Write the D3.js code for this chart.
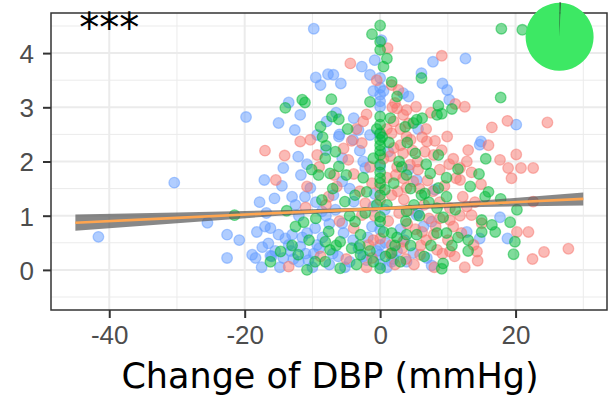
<!DOCTYPE html>
<html>
<head>
<meta charset="utf-8">
<script src="https://cdn.jsdelivr.net/npm/d3@7"></script>
<style>
  body { margin: 0; background: #fff; }
  svg { font-family: "DejaVu Sans", sans-serif; }
  .grid-major line { stroke: #ebebeb; stroke-width: 2; }
  .grid-minor line { stroke: #ebebeb; stroke-width: 1; }
  .axis line { stroke: #333; stroke-width: 2; }
  .axis text { fill: #4d4d4d; font-size: 26px; }
  .axistitle { fill: #000; font-size: 35px; }
</style>
</head>
<body>
<div id="chart"></div>
<script>
// DATA
var xTicks = [-40, -20, 0, 20];
var xMinor = [-30, -10, 10, 30];
var yTicks = [0, 1, 2, 3, 4];
var yMinor = [-0.5, 0.5, 1.5, 2.5, 3.5, 4.5];

// group colours: red / green / blue (ggplot hues)
var groupRed = [[1.1,4.09],[-4.4,3.81],[1.7,3.41],[2.2,3.08],[2.7,3.32],[-2.0,2.87],[-2.5,2.74],[1.7,2.52],[-11.8,2.37],[-10.3,2.40],[-4.2,2.38],[-2.7,2.34],[2.5,2.98],[2.0,2.74],
  [9.1,3.95],[5.3,3.01],[3.9,2.95],[3.4,2.86],[11.1,3.06],[12.5,3.01],[16.5,2.63],[18.8,2.75],[24.7,2.72],[9.9,2.46],[6.9,2.37],[8.1,2.38],[3.9,2.46],
  [13.0,2.21],[17.7,2.03],[20.1,2.13],[20.8,1.88],[22.6,1.88],[18.9,1.88],[19.4,1.69],[12.8,2.00],[11.8,1.88],[11.2,1.69],[11.8,1.66],[14.9,1.58],[22.6,1.26],[20.2,0.70],[21.9,0.70],[22.5,0.20],[24.2,0.33],[27.8,0.39],[10.2,1.95],[8.8,1.85],[12.8,1.17],[13.5,1.01],[15.0,0.86],[12.0,0.68],[10.3,0.34],[13.8,0.46],[14.3,0.34],[14.4,0.17],[8.4,0.37],[5.9,0.28],[7.9,0.65],[3.4,0.52],[8.8,0.95],[10.3,0.92],[10.3,1.14],[3.9,1.51],[4.9,1.63],[3.4,1.69],[4.4,1.94],[7.9,2.12],[6.6,2.18],[9.1,2.21],[3.4,2.15],
  [-17.0,2.20],[-14.1,2.11],[-15.4,1.66],[-10.8,1.54],[-9.3,2.12],[-4.7,2.03],[-3.9,1.77],[-6.4,1.54],[-7.6,1.35],[0,1.51],[0,1.29],[-1.2,1.60],[1.7,1.38],[-2.2,1.23],[-13.5,0.06],[-8.8,0.25],[-3.9,0.77],[-1.7,0.46],[0,0.58],[1.7,0.46],[-1.2,0.22],[-5.4,2.24],[-2.7,1.01],
  [2.5,1.9],[3.0,2.3],[4.5,2.4],[5.8,1.5],[6.5,1.2],[7.2,0.95],[2.8,1.05],[4.0,0.85],[6.0,0.45],[5.0,0.1],[8.0,0.05],[11.0,0.25],[12.5,0.05],[2.2,0.1],[1.2,0.9],[3.5,1.3],[9.5,1.55],[10.8,2.05],[6.8,2.6],[7.5,2.9],[1.0,2.6],[-1.0,0.55],[-3.0,1.45],[-6.0,0.9],[-9.0,1.9],[0.5,2.05],[2.0,2.25],[4.2,2.7],[5.5,2.0],[6.2,0.7],[10.0,0.55],[12.2,1.35],[14.0,1.25],[3.3,0.4],[1.5,0.3],[-2.0,0.05],[-5.0,0.2],[8.8,1.25],[7.0,1.65],[2.3,1.75],
  [1.0,1.7],[1.5,2.1],[3.0,2.6],[4.8,2.2],[5.6,1.85],[6.2,2.45],[7.8,1.45],[8.2,0.8],[9.2,0.3],[10.8,0.8],[11.8,1.0],[2.6,1.45],[4.2,1.1],[5.2,0.75],[6.8,0.55],[3.8,0.2],[-0.8,1.0],[-1.5,1.9],[-3.5,2.6],[-6.8,1.75],[-8.0,1.2],[-11.0,1.15],[13.5,1.8],[16.0,2.3],[1.8,3.0],[-0.5,3.5]];

var groupGreen = [[0,4.51],[-1.2,4.35],[0,4.21],[0,4.06],[0.5,3.75],[1.7,3.47],[-14.0,2.99],[-11.5,3.14],[-11.1,3.09],[-7.2,3.15],[-7.1,2.83],[-6.1,2.78],[-8.8,2.64],[0,2.83],[0,2.68],[0,2.52],[0,2.40],[-8.0,2.29],
  [17.9,4.45],[21.0,4.43],[6.1,3.54],[17.8,3.18],[8.6,3.03],[10.6,2.97],[8.4,2.86],[9.1,2.88],[5.4,2.77],[4.9,2.71],[3.7,2.64],
  [15.6,2.05],[14.6,1.77],[13.3,1.54],[16.0,1.44],[15.5,1.35],[17.8,1.31],[20.2,1.11],[19.2,0.88],[19.9,0.52],[19.7,0.29],[11.5,1.86],[8.6,1.51],[9.8,1.35],[15.0,0.92],[16.5,0.83],[17.0,0.70],[15.0,0.70],[13.0,0.55],[10.6,0.45],[13.0,0.35],[9.1,0.02],[9.3,0.12],[5.4,0.65],[8.4,0.68],[9.8,0.68],[3.9,0.65],[11.1,1.11],[9.3,0.97],[3.9,1.08],[8.4,1.14],[6.1,1.38],[6.6,1.41],[3.9,1.75],[7.4,1.78],[5.2,2.15],[8.6,2.12],
  [-21.5,1.01],[-13.8,1.09],[-10.1,1.85],[-9.1,1.75],[-8.1,2.06],[-6.6,2.18],[-6.1,1.91],[-8.6,1.29],[-3.7,1.38],[-5.2,1.26],[-1.0,2.06],[0,2.12],[0,1.94],[0,1.69],[0,1.38],[2.0,1.60],[-2.0,1.44],[0,0.98],[0,0.89],[-3.7,0.89],[-11.3,0.88],[-14.7,0.34],[-7.6,0.71],[-8.1,0.52],[-12.1,0.28],[-9.6,0.15],[-8.1,0.15],[-7.4,0.37],[-5.9,0.03],[-5.9,0.52],[-2.9,0.65],[-4.2,0.40],[-2.9,0.28],[0,0.03],[1.7,0.68],[1.7,0.31],[-7.4,1.78],[0.7,1.48],[-16.2,0.15],
  [1.0,1.2],[2.5,0.6],[3.0,0.15],[4.5,0.45],[6.5,0.25],[-1.5,0.35],[-3.5,0.1],[-4.5,1.0],[-6.5,0.45],[-10.5,0.55],[-12.5,0.8],[-7.0,1.5],[1.5,2.8],[2.8,2.0],[5.0,1.2],[7.5,0.45],[11.5,0.6],[-2.5,1.7],[0.5,0.7],[3.2,1.9],[-0.5,2.6],[-1.5,3.1],[1.0,3.9],[4.0,2.35],[6.8,1.95],[-8.5,2.45],[-4.8,2.6],[0,2.3],[0,2.2],[0,1.8],[0,1.6],[0.3,2.45],
  [-1.0,0.15],[0.8,0.25],[2.2,0.45],[3.8,0.9],[4.5,1.5],[5.8,1.0],[7.2,1.25],[9.8,1.7],[6.2,2.8],[2.5,3.2],[-0.5,1.2],[-2.2,1.05],[-5.0,1.75],[-9.5,0.95],[-13.0,0.45],[-10.8,0.0],[-3.0,0.45],[1.3,2.35]];

var groupBlue = [[-30.4,1.61],[-41.6,0.61],[-25.5,0.87],[-22.6,0.65],[-20.8,0.55],[-22.6,0.22],[-19.8,2.82],
  [-9.8,4.45],[0.2,4.24],[-2.7,3.75],[-0.8,3.87],[-1.5,3.60],[0,3.54],[-9.5,3.55],[-8.8,3.41],[-7.7,3.61],[-6.9,3.60],[-5.8,3.44],[0,3.36],[0,3.23],[0,3.11],[0,3.01],[-13.5,3.09],[-11.8,2.86],[-15.0,2.71],[-12.6,2.58],[-7.9,2.74],[-3.9,2.80],[-3.2,2.58],[-1.5,2.49],[-6.1,2.46],[-9.3,2.49],
  [7.8,3.84],[12.6,3.90],[6.1,3.63],[9.2,3.44],[9.9,3.32],[3.4,3.26],[4.2,3.20],[10.2,3.14],[5.6,2.60],[20.1,2.68],[14.9,2.37],
  [14.7,2.31],[17.7,0.97],[18.8,0.58],[12.8,0.70],[14.7,0.58],[7.6,0.08],[6.9,0.22],[4.9,0.31],[3.9,0.15],[6.4,0.80],[5.4,1.01],[7.6,0.89],[5.6,1.05],[8.1,1.48],[4.2,1.85],[5.4,1.66],
  [-12.1,2.09],[-14.3,1.88],[-17.1,1.66],[-15.6,1.32],[-13.0,1.35],[-11.1,1.35],[-11.7,1.75],[-10.3,1.51],[-8.0,2.21],[-5.6,2.06],[-5.6,1.63],[-6.9,1.38],[-6.6,1.11],[1.2,2.18],[-2.2,1.88],[-1.0,1.17],[-5.6,0.86],[-18.2,0.70],[-17.0,0.80],[-16.2,0.77],[-16.5,0.49],[-15.0,0.65],[-14.0,0.58],[-13.5,0.46],[-18.9,0.28],[-16.0,0.25],[-14.3,0.22],[-11.8,0.43],[-10.8,0.68],[-9.6,0.77],[-9.3,0.46],[-10.6,0.18],[-5.4,0.68],[-2.0,0.18],[0,0.28],[0,0.46],[0,0.74],[1.7,0.15],[-3.9,1.26],[-8.6,1.08],[0.7,1.11],
  [-17.4,0.42],[-18.4,0.22],[-16.2,0.26],
  [-2.5,0.25],[-4.0,0.55],[-7.0,0.3],[-8.0,1.0],[-12.0,1.0],[-13.0,0.65],[-15.5,0.35],[-10.0,0.05],[1.0,0.05],[2.5,0.35],[-1.2,0.8],[-3.0,2.2],[-6.0,2.5],[-10.8,1.95],[-14.5,1.55],[-16.8,1.05],[0,1.9],[0,2.5],[0,0.1],[0.5,3.3],[3.0,0.75],[-0.8,1.4],[-5.2,0.05],[-9.0,0.4],[-11.0,0.3],[-12.8,0.2],[-17.5,0.05],
  [-14.8,0.05],[-13.2,0.35],[-12.0,0.15],[-9.8,0.3],[-8.5,0.6],[-7.5,0.1],[-6.2,0.25],[-4.5,0.15],[-3.2,0.4],[-1.8,0.6],[-0.5,0.35],[0.8,0.5],[2.0,0.2],[3.6,0.55],[-11.5,0.6],[-12.5,1.2],[-9.5,1.25],[-7.5,0.85],[-4.5,1.5],[-2.5,2.0],[-4.0,2.4],[-6.5,2.9],[-1.0,3.3],[-17.8,1.25]];

// linear fit and its confidence band
var fitX  = [-45, -30, -15, 0, 15, 30];
var fitY  = [0.87, 0.96, 1.05, 1.13, 1.22, 1.31];
var fitLo = [0.72, 0.86, 1.00, 1.10, 1.16, 1.19];
var fitHi = [1.02, 1.06, 1.10, 1.16, 1.28, 1.43];

// pie in the corner: tiny black slice, rest green
var pieValues = [0.005, 0.995];
var pieColors = ["#111111", "#3de864"];
var pieAt = [26.5, 4.30];

var label = "***";
var labelAt = -40;

var margin = { top: 13, right: 3, bottom: 88, left: 51 };
var width = 610 - margin.left - margin.right;
var height = 398 - margin.top - margin.bottom;

var svg = d3.select("#chart").append("svg")
    .attr("width", 610)
    .attr("height", 398)
  .append("g")
    .attr("transform", "translate(" + margin.left + "," + margin.top + ")");

var x = d3.scaleLinear().domain([-48.6, 33.5]).range([0, width]);
var y = d3.scaleLinear().domain([-0.74, 4.74]).range([height, 0]);

// GRID
svg.append("g").attr("class", "grid-minor")
  .selectAll("line").data(xMinor).enter().append("line")
    .attr("x1", function(d) { return x(d); }).attr("x2", function(d) { return x(d); })
    .attr("y1", 0).attr("y2", height);
svg.append("g").attr("class", "grid-minor")
  .selectAll("line").data(yMinor).enter().append("line")
    .attr("y1", function(d) { return y(d); }).attr("y2", function(d) { return y(d); })
    .attr("x1", 0).attr("x2", width);
svg.append("g").attr("class", "grid-major")
  .selectAll("line").data(xTicks).enter().append("line")
    .attr("x1", function(d) { return x(d); }).attr("x2", function(d) { return x(d); })
    .attr("y1", 0).attr("y2", height);
svg.append("g").attr("class", "grid-major")
  .selectAll("line").data(yTicks).enter().append("line")
    .attr("y1", function(d) { return y(d); }).attr("y2", function(d) { return y(d); })
    .attr("x1", 0).attr("x2", width);

// POINTS
function drawPoints(pts, col) {
  svg.append("g").selectAll("circle")
    .data(pts).enter().append("circle")
      .attr("cx", function(d) { return x(d[0]); })
      .attr("cy", function(d) { return y(d[1]); })
      .attr("r", 5.3)
      .attr("fill", col).attr("fill-opacity", 0.5)
      .attr("stroke", col).attr("stroke-opacity", 0.5)
      .attr("stroke-width", 1.3);
}
drawPoints(groupBlue, "#619cff");
drawPoints(groupRed, "#f8766d");
drawPoints(groupGreen, "#00ba38");

// FIT
var band = fitX.map(function(d, i) { return { x: d, lo: fitLo[i], hi: fitHi[i], y: fitY[i] }; });
svg.append("path")
  .datum(band)
  .attr("fill", "#555").attr("fill-opacity", 0.7)
  .attr("d", d3.area()
    .x(function(d) { return x(d.x); })
    .y0(function(d) { return y(d.lo); })
    .y1(function(d) { return y(d.hi); }));
svg.append("path")
  .datum(band)
  .attr("fill", "none").attr("stroke", "#ffa54f").attr("stroke-width", 2.6)
  .attr("d", d3.line()
    .x(function(d) { return x(d.x); })
    .y(function(d) { return y(d.y); }));

// AXES
var fmt = function(d) { return String(d); };
var gx = svg.append("g")
    .attr("class", "axis")
    .attr("transform", "translate(0," + height + ")")
    .call(d3.axisBottom(x).tickValues(xTicks).tickFormat(fmt).tickSize(8).tickPadding(6));
gx.select(".domain").remove();
gx.selectAll("text").attr("dy", "0.78em");

var gy = svg.append("g")
    .attr("class", "axis")
    .call(d3.axisLeft(y).tickValues(yTicks).tickFormat(fmt).tickSize(8).tickPadding(9));
gy.select(".domain").remove();
gy.selectAll("text").attr("dy", "0.36em");

svg.append("rect")
  .attr("width", width).attr("height", height)
  .attr("fill", "none").attr("stroke", "#333").attr("stroke-width", 1.5);

svg.append("text")
  .attr("class", "axistitle")
  .attr("x", 279)
  .attr("y", height + 78)
  .attr("text-anchor", "middle")
  .text("Change of DBP (mmHg)");

// ANNOTATIONS
svg.append("text")
  .attr("x", x(labelAt))
  .attr("y", 29)
  .attr("text-anchor", "middle")
  .style("font-size", "40px")
  .text(label);

var pie = d3.pie().sort(null)(pieValues);
var arc = d3.arc().innerRadius(0).outerRadius(34);
svg.append("g")
  .attr("transform", "translate(" + x(pieAt[0]) + "," + y(pieAt[1]) + ")")
  .selectAll("path").data(pie).enter().append("path")
    .attr("d", arc)
    .attr("fill", function(d, i) { return pieColors[i]; })
    .attr("stroke", function(d, i) { return i === 0 ? pieColors[0] : "none"; })
    .attr("stroke-width", 0.8);
</script>
</body>
</html>
